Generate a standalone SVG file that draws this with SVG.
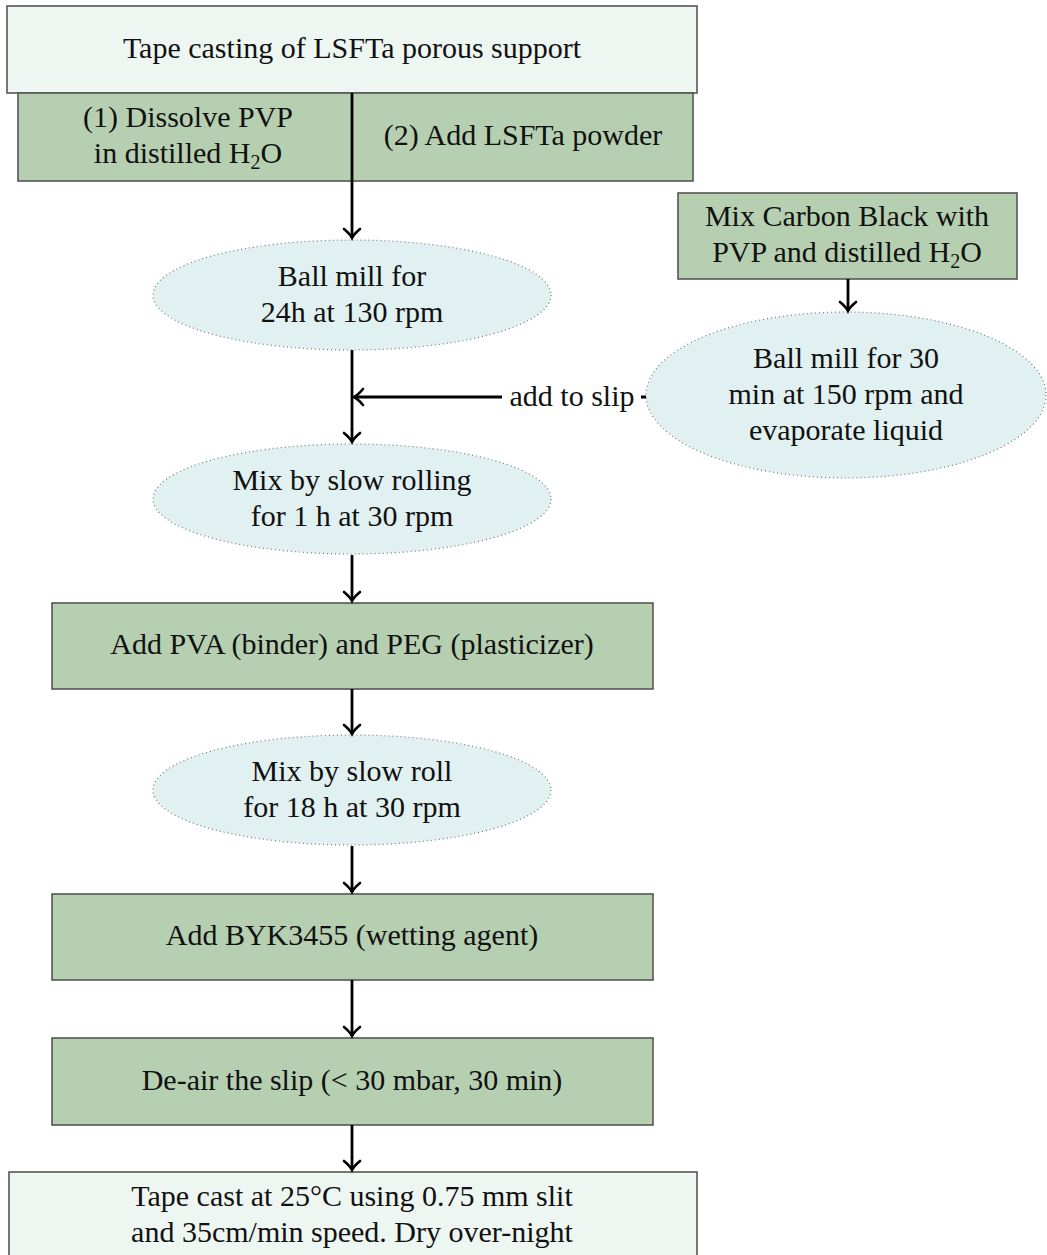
<svg xmlns="http://www.w3.org/2000/svg" width="1047" height="1255" viewBox="0 0 1047 1255">
<style>
text{font-family:"Liberation Serif","Times New Roman",serif;font-size:30px;fill:#111;text-anchor:middle}
.light{fill:#eef6f2;stroke:#555;stroke-width:1.6}
.green{fill:#b7cfb1;stroke:#555;stroke-width:1.6}
.ell{fill:#e1f0f0;stroke:#777;stroke-width:1.2;stroke-dasharray:1 3}
.conn{stroke:#000;stroke-width:2.8;fill:none}
</style>
<defs>
<marker id="arr" markerWidth="10" markerHeight="10" refX="7" refY="5" orient="auto" markerUnits="userSpaceOnUse" viewBox="0 0 10 10" overflow="visible">
<path d="M-2,-3 Q3,3 7,5 Q3,7 -2,13" fill="none" stroke="#000" stroke-width="2.6" stroke-linecap="round"/>
</marker>
</defs>
<g id="n-top"><rect class="light" x="7" y="6" width="690" height="87"/><text x="352" y="58">Tape casting of LSFTa porous support</text></g>
<g id="n-split"><rect class="green" x="18" y="93" width="675" height="88"/><text x="188" y="127">(1) Dissolve PVP</text><text x="188" y="163">in distilled H<tspan font-size="20" dy="6">2</tspan><tspan dy="-6">O</tspan></text><text x="523" y="145">(2) Add LSFTa powder</text></g>
<g id="n-ball1"><ellipse class="ell" cx="352" cy="295" rx="199" ry="55"/><text x="352" y="286">Ball mill for</text><text x="352" y="322">24h at 130 rpm</text></g>
<g id="n-carbon"><rect class="green" x="678" y="193" width="339" height="86"/><text x="847" y="226">Mix Carbon Black with</text><text x="847" y="262">PVP and distilled H<tspan font-size="20" dy="6">2</tspan><tspan dy="-6">O</tspan></text></g>
<g id="n-ball2"><ellipse class="ell" cx="846" cy="395" rx="200" ry="83"/><text x="846" y="368">Ball mill for 30</text><text x="846" y="404">min at 150 rpm and</text><text x="846" y="440">evaporate liquid</text></g>
<g id="n-mix1"><ellipse class="ell" cx="352" cy="499" rx="199" ry="55"/><text x="352" y="490">Mix by slow rolling</text><text x="352" y="526">for 1 h at 30 rpm</text></g>
<g id="n-pva"><rect class="green" x="52" y="603" width="601" height="86"/><text x="352" y="654">Add PVA (binder) and PEG (plasticizer)</text></g>
<g id="n-mix2"><ellipse class="ell" cx="352" cy="790" rx="199" ry="55"/><text x="352" y="781">Mix by slow roll</text><text x="352" y="817">for 18 h at 30 rpm</text></g>
<g id="n-byk"><rect class="green" x="52" y="894" width="601" height="86"/><text x="352" y="945">Add BYK3455 (wetting agent)</text></g>
<g id="n-deair"><rect class="green" x="52" y="1038" width="601" height="87"/><text x="352" y="1090">De-air the slip (&lt; 30 mbar, 30 min)</text></g>
<g id="n-cast"><rect class="light" x="9" y="1172" width="688" height="100"/><text x="352" y="1206">Tape cast at 25°C using 0.75 mm slit</text><text x="352" y="1242">and 35cm/min speed. Dry over-night</text></g>
<g id="connectors">
<line class="conn" x1="352" y1="93" x2="352" y2="238" marker-end="url(#arr)"/>
<line class="conn" x1="352" y1="350" x2="352" y2="442" marker-end="url(#arr)"/>
<line class="conn" x1="646" y1="397" x2="354" y2="397" marker-end="url(#arr)"/>
<rect x="502" y="380" width="139" height="32" fill="#fff"/>
<text x="572" y="406">add to slip</text>
<line class="conn" x1="848" y1="279" x2="848" y2="311" marker-end="url(#arr)"/>
<line class="conn" x1="352" y1="555" x2="352" y2="601" marker-end="url(#arr)"/>
<line class="conn" x1="352" y1="689" x2="352" y2="734" marker-end="url(#arr)"/>
<line class="conn" x1="352" y1="846" x2="352" y2="892" marker-end="url(#arr)"/>
<line class="conn" x1="352" y1="980" x2="352" y2="1036" marker-end="url(#arr)"/>
<line class="conn" x1="352" y1="1125" x2="352" y2="1170" marker-end="url(#arr)"/>
</g>
</svg>
